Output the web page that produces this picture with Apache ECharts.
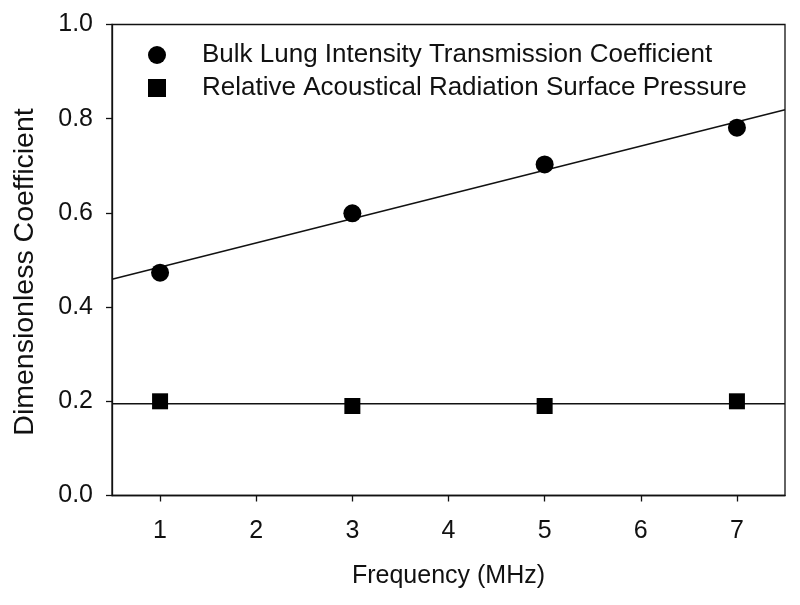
<!DOCTYPE html>
<html>
<head>
<meta charset="utf-8">
<script src="https://cdn.jsdelivr.net/npm/echarts@6/dist/echarts.min.js"></script>
<style>
html,body{margin:0;padding:0;background:#fff;}
#chart{width:800px;height:605px;}
</style>
</head>
<body>
<div id="chart"></div>
<script>
var frequencies = [1, 3, 5, 7];
var transmission = [0.473, 0.599, 0.703, 0.781];
var pressure = [0.200, 0.190, 0.190, 0.200];
var transmissionFitX = [0.5, 7.5];
var transmissionFitY = [0.459, 0.819];
var pressureFitX = [0.5, 7.5];
var pressureFitY = [0.195, 0.195];
var xTicks = [1, 2, 3, 4, 5, 6, 7];
var yTicks = [0.0, 0.2, 0.4, 0.6, 0.8, 1.0];
var seriesNames = ['Bulk Lung Intensity Transmission Coefficient', 'Relative Acoustical Radiation Surface Pressure'];

function pairs(xs, ys) { return xs.map(function (x, i) { return [x, ys[i]]; }); }

var FONT = "'Liberation Sans', Arial, sans-serif";
var chart = echarts.init(document.getElementById('chart'), null, {renderer: 'canvas'});
chart.setOption({
  backgroundColor: '#fff',
  animation: false,
  textStyle: {fontFamily: FONT, color: '#111'},
  grid: {left: 112, right: 15, top: 24.5, bottom: 109.5, show: true, borderColor: '#111', borderWidth: 1.3, backgroundColor: 'transparent'},
  legend: {
    orient: 'vertical', left: 143, top: 37, itemWidth: 18, itemHeight: 18, itemGap: 7,
    data: [{name: seriesNames[0], icon: 'circle'}, {name: seriesNames[1], icon: 'rect'}],
    itemStyle: {opacity: 1, color: '#000'},
    textStyle: {fontFamily: FONT, fontSize: 26, color: '#111', lineHeight: 26, padding: [0, 0, 0, 31]},
    selectedMode: false
  },
  xAxis: {
    type: 'value', min: 0.5, max: 7.5,
    name: 'Frequency (MHz)', nameLocation: 'middle', nameGap: 68,
    nameTextStyle: {fontFamily: FONT, fontSize: 25, color: '#111'},
    axisLine: {show: true, onZero: false, lineStyle: {color: '#111', width: 1.3}},
    axisTick: {show: true, inside: false, length: 6, customValues: xTicks, lineStyle: {color: '#111', width: 1.3}},
    axisLabel: {show: true, margin: 23, fontSize: 25, color: '#111', fontFamily: FONT, customValues: xTicks},
    splitLine: {show: false}
  },
  yAxis: {
    type: 'value', min: 0, max: 1, interval: 0.2,
    name: 'Dimensionless Coefficient', nameLocation: 'middle', nameGap: 72, nameRotate: 90,
    nameTextStyle: {fontFamily: FONT, fontSize: 28.5, color: '#111', padding: [0, 24, 0, 0]},
    axisLine: {show: true, onZero: false, lineStyle: {color: '#111', width: 1.3}},
    axisTick: {show: true, inside: false, length: 6, lineStyle: {color: '#111', width: 1.3}},
    axisLabel: {show: true, margin: 19, fontSize: 25, color: '#111', fontFamily: FONT,
      customValues: yTicks, formatter: function (v) { return v.toFixed(1); }},
    splitLine: {show: false}
  },
  series: [
    {name: seriesNames[0], type: 'scatter', symbol: 'circle', symbolSize: 18, itemStyle: {color: '#000', opacity: 1},
     data: pairs(frequencies, transmission), z: 3},
    {name: seriesNames[1], type: 'scatter', symbol: 'rect', symbolSize: 16, itemStyle: {color: '#000', opacity: 1},
     data: pairs(frequencies, pressure), z: 3},
    {name: 'fit1', type: 'line', symbol: 'none', data: pairs(transmissionFitX, transmissionFitY),
     lineStyle: {color: '#111', width: 1.5}, z: 2},
    {name: 'fit2', type: 'line', symbol: 'none', data: pairs(pressureFitX, pressureFitY),
     lineStyle: {color: '#111', width: 1.5}, z: 2}
  ]
});
</script>
</body>
</html>
